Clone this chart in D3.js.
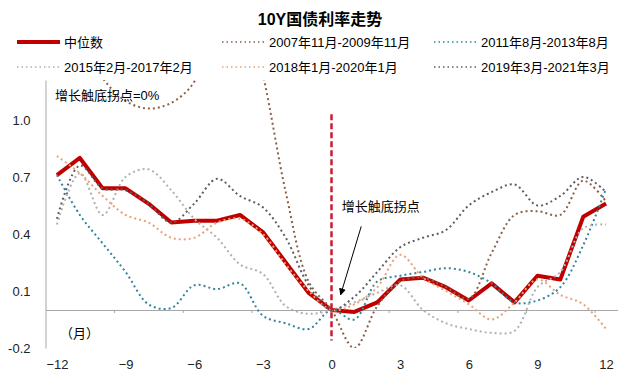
<!DOCTYPE html>
<html lang="zh">
<head>
<meta charset="UTF-8">
<title>10Y国债利率走势</title>
<script src="https://d3js.org/d3.v7.min.js"></script>
<style>
  body { margin: 0; background: #fff; }
  svg { display: block; font-family: "Liberation Sans", Arial, "Noto Sans CJK SC", sans-serif; }
  .axis text { font-size: 13px; fill: #222; }
  .axis path, .axis line { stroke: #a6a6a6; }
</style>
</head>
<body>
<div id="chart"></div>
<script>
// months relative to the growth bottoming point
const months = [-12, -11, -10, -9, -8, -7, -6, -5, -4, -3, -2, -1, 0, 1, 2, 3, 4, 5, 6, 7, 8, 9, 10, 11, 12];
const xTickLabels = [-12, -9, -6, -3, 0, 3, 6, 9, 12];
const yTickValues = [-0.2, 0.1, 0.4, 0.7, 1.0];

const median = [0.71, 0.80, 0.64, 0.64, 0.56, 0.46, 0.47, 0.47, 0.50, 0.41, 0.25, 0.09, 0.00, -0.01, 0.04, 0.16, 0.17, 0.12, 0.05, 0.14, 0.04, 0.18, 0.16, 0.49, 0.56];
const s2007 = [1.65, 1.45, 1.22, 1.10, 1.06, 1.09, 1.20, 1.55, 1.70, 1.24, 0.62, 0.15, 0.00, -0.20, 0.02, 0.15, 0.17, 0.12, 0.06, 0.30, 0.50, 0.52, 0.50, 0.68, 0.57];
const s2011 = [0.71, 0.50, 0.35, 0.20, 0.03, 0.01, 0.13, 0.11, 0.14, -0.03, -0.07, -0.10, 0.00, -0.05, 0.15, 0.18, 0.20, 0.22, 0.20, 0.14, 0.04, 0.05, 0.12, 0.34, 0.64];
const s2015 = [0.45, 0.72, 0.50, 0.70, 0.74, 0.63, 0.48, 0.38, 0.24, 0.19, 0.02, -0.02, 0.00, 0.04, 0.09, 0.13, 0.00, -0.07, -0.10, -0.12, -0.11, 0.12, 0.20, 0.43, 0.45];
const s2018 = [0.81, 0.72, 0.60, 0.50, 0.46, 0.38, 0.38, 0.46, 0.48, 0.40, 0.24, 0.10, 0.00, 0.03, 0.12, 0.29, 0.17, 0.10, 0.03, -0.05, 0.04, 0.16, 0.08, 0.03, -0.10];
const s2019 = [0.48, 0.76, 0.64, 0.63, 0.56, 0.46, 0.56, 0.69, 0.60, 0.54, 0.38, 0.13, 0.00, 0.07, 0.20, 0.33, 0.38, 0.42, 0.55, 0.62, 0.66, 0.55, 0.60, 0.70, 0.62];

const series = [
  { name: "中位数", values: median, color: "#c00000", dotted: false },
  { name: "2007年11月-2009年11月", values: s2007, color: "#8c6048", dotted: true },
  { name: "2011年8月-2013年8月", values: s2011, color: "#31859c", dotted: true },
  { name: "2015年2月-2017年2月", values: s2015, color: "#b0b0b0", dotted: true },
  { name: "2018年1月-2020年1月", values: s2018, color: "#e9a277", dotted: true },
  { name: "2019年3月-2021年3月", values: s2019, color: "#5f5f5f", dotted: true }
];

const width = 640, height = 378;
const plot = { left: 45.5, right: 617.5, top: 80, bottom: 348 };

const svg = d3.select("#chart").append("svg")
  .attr("width", width)
  .attr("height", height);

const x = d3.scaleLinear().domain([-12.5, 12.5]).range([plot.left, plot.right]);
const y = d3.scaleLinear().domain([-0.2, 1.21]).range([plot.bottom, plot.top]);

// title
svg.append("text")
  .attr("x", 320).attr("y", 25)
  .attr("text-anchor", "middle")
  .style("font-size", "16px").style("font-weight", "bold")
  .text("10Y国债利率走势");

// y axis
svg.append("g")
  .attr("class", "axis")
  .attr("transform", `translate(${plot.left},0)`)
  .call(d3.axisLeft(y).tickValues(yTickValues).tickSize(0).tickSizeOuter(0)
    .tickPadding(15).tickFormat(d => d.toFixed(1)));

// zero line with boundary ticks every 3 months
svg.append("g")
  .attr("class", "axis")
  .attr("transform", `translate(0,${y(0)})`)
  .call(d3.axisBottom(x).tickValues(xTickLabels.slice(1).map(d => d - 0.5))
    .tickSize(3).tickSizeOuter(0).tickFormat(""));

// month labels at the bottom
svg.append("g")
  .attr("class", "axis")
  .attr("transform", `translate(0,${plot.bottom})`)
  .call(d3.axisBottom(x).tickValues(xTickLabels).tickSize(0).tickPadding(12))
  .call(g => g.select(".domain").remove());

svg.append("text")
  .attr("x", 60).attr("y", 338)
  .style("font-size", "13px")
  .text("（月）");

// clip series to plot area
svg.append("clipPath").attr("id", "clip")
  .append("rect")
  .attr("x", plot.left).attr("y", plot.top)
  .attr("width", plot.right - plot.left).attr("height", plot.bottom - plot.top);

const lineStraight = d3.line()
  .x((d, i) => x(months[i]))
  .y(d => y(d));
const lineSmooth = d3.line()
  .x((d, i) => x(months[i]))
  .y(d => y(d))
  .curve(d3.curveCatmullRom.alpha(0.5));

const lines = svg.append("g").attr("clip-path", "url(#clip)");
series.forEach(s => {
  lines.append("path")
    .attr("d", s.dotted ? lineSmooth(s.values) : lineStraight(s.values))
    .attr("fill", "none")
    .attr("stroke", s.color)
    .attr("stroke-width", s.dotted ? 2 : 4)
    .attr("stroke-dasharray", s.dotted ? "2,3" : null)
    .attr("stroke-linejoin", "round");
});

// bottoming point marker
svg.append("line")
  .attr("x1", x(0)).attr("x2", x(0))
  .attr("y1", y(1.03)).attr("y2", y(-0.16))
  .attr("stroke", "#c81e32")
  .attr("stroke-width", 2.5)
  .attr("stroke-dasharray", "6,3");

svg.append("text")
  .attr("x", x(0.45)).attr("y", y(0.54) + 4)
  .style("font-size", "13px")
  .text("增长触底拐点");

svg.append("defs").append("marker")
  .attr("id", "arrow")
  .attr("viewBox", "0 0 10 10")
  .attr("refX", 9).attr("refY", 5)
  .attr("markerWidth", 7).attr("markerHeight", 7)
  .attr("orient", "auto")
  .append("path").attr("d", "M0,0L10,5L0,10z").attr("fill", "#000");

svg.append("line")
  .attr("x1", x(1.3)).attr("y1", y(0.44))
  .attr("x2", x(0.4)).attr("y2", y(0.08))
  .attr("stroke", "#000").attr("stroke-width", 1)
  .attr("marker-end", "url(#arrow)");

svg.append("text")
  .attr("x", 55).attr("y", 100)
  .style("font-size", "13px")
  .text("增长触底拐点=0%");

// legend: two rows, three columns
const legendCols = [17, 222, 434];
const legendRows = [42, 67];
const legend = svg.append("g");
series.forEach((s, i) => {
  const lx = legendCols[i % 3], ly = legendRows[Math.floor(i / 3)];
  legend.append("line")
    .attr("x1", lx).attr("x2", lx + 43)
    .attr("y1", ly).attr("y2", ly)
    .attr("stroke", s.color)
    .attr("stroke-width", s.dotted ? 1.5 : 4)
    .attr("stroke-dasharray", s.dotted ? "1.5,3" : null);
  legend.append("text")
    .attr("x", lx + 47).attr("y", ly + 5)
    .style("font-size", "13px")
    .text(s.name);
});
</script>
</body>
</html>
